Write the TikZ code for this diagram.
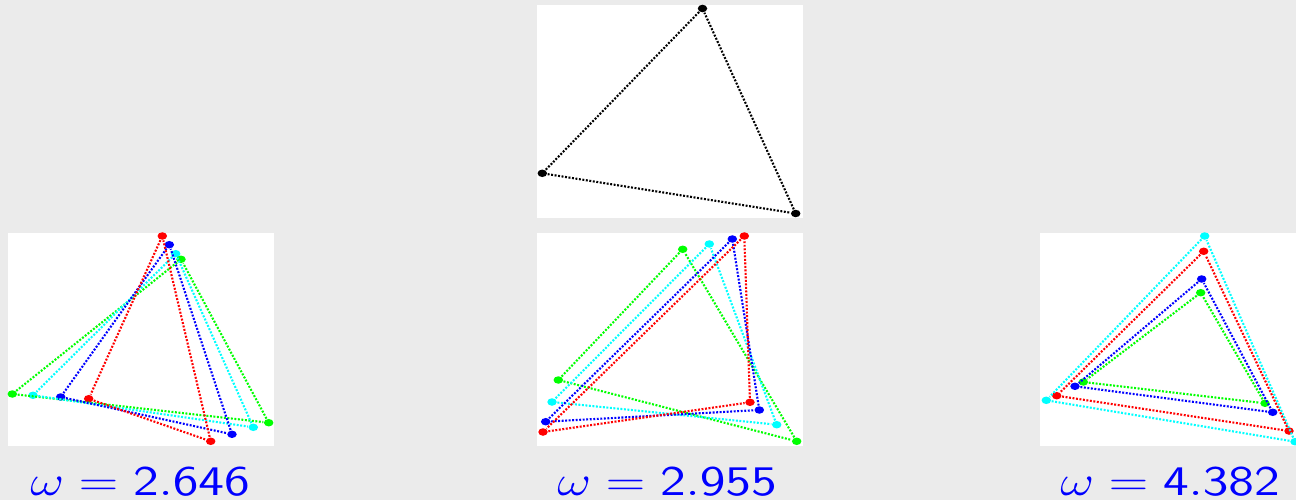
\documentclass[tikz,border=0pt]{standalone}
\usetikzlibrary{shapes.geometric}
\definecolor{bg}{RGB}{235,235,235}
\definecolor{pRed}{RGB}{255,0,0}
\definecolor{pBlue}{RGB}{0,0,255}
\definecolor{pCyan}{RGB}{0,255,255}
\definecolor{pGreen}{RGB}{0,255,0}
\tikzset{
  vtx/.style={ellipse, inner sep=0pt, minimum width=0.095cm, minimum height=0.075cm, fill=#1, draw=none},
  edge/.style={draw=#1, line width=0.6pt, dash pattern=on 0.55pt off 0.45pt},
  panel/.style={fill=white, draw=none},
  omegalabel/.style={text=pBlue, font=\fontsize{13}{15}\selectfont, inner sep=0pt, anchor=base}
}
\newcommand{\omlab}[1]{\scalebox{1.24}[1]{$\omega = \mathsf{#1}$}}
\begin{document}
\begin{tikzpicture}[x=0.01cm, y=-0.01cm]
\clip (0,0) rectangle (1296,500);
\useasboundingbox (0,0) rectangle (1296,500);
\fill[bg] (0,0) rectangle (1296,500);
% panels
\fill[panel] (537,5) rectangle (803,218);
\fill[panel] (8,233) rectangle (274,446);
\fill[panel] (537,233) rectangle (803,446);
\fill[panel] (1040,233) rectangle (1306,446);

% top panel (black)
\node[vtx=black] (k1) at (702.5,8.5) {};
\node[vtx=black] (k2) at (542.3,173.3) {};
\node[vtx=black] (k3) at (795.7,213.5) {};
\draw[edge=black] (k1) -- (k2);
\draw[edge=black] (k2) -- (k3);
\draw[edge=black] (k3) -- (k1);

% bottom-left panel
\node[vtx=pRed] (a1) at (162.3,236) {};
\node[vtx=pRed] (a2) at (88.7,398.7) {};
\node[vtx=pRed] (a3) at (210.7,441.3) {};
\node[vtx=pBlue] (b1) at (169.3,244.7) {};
\node[vtx=pBlue] (b2) at (60.7,397) {};
\node[vtx=pBlue] (b3) at (232,434.3) {};
\node[vtx=pCyan] (c1) at (175.7,253.7) {};
\node[vtx=pCyan] (c2) at (33,395.3) {};
\node[vtx=pCyan] (c3) at (253.3,427.3) {};
\node[vtx=pGreen] (g1) at (181,259.3) {};
\node[vtx=pGreen] (g2) at (12.3,394) {};
\node[vtx=pGreen] (g3) at (268.7,422.7) {};
\draw[edge=pGreen] (g1) -- (g2); \draw[edge=pGreen] (g2) -- (g3); \draw[edge=pGreen] (g3) -- (g1);
\draw[edge=pCyan] (c1) -- (c2); \draw[edge=pCyan] (c2) -- (c3); \draw[edge=pCyan] (c3) -- (c1);
\draw[edge=pBlue] (b1) -- (b2); \draw[edge=pBlue] (b2) -- (b3); \draw[edge=pBlue] (b3) -- (b1);
\draw[edge=pRed] (a1) -- (a2); \draw[edge=pRed] (a2) -- (a3); \draw[edge=pRed] (a3) -- (a1);

% bottom-centre panel
\node[vtx=pGreen] (m1) at (682.7,249.3) {};
\node[vtx=pGreen] (m2) at (558.3,380) {};
\node[vtx=pGreen] (m3) at (796.7,441.3) {};
\node[vtx=pCyan] (n1) at (709.3,244) {};
\node[vtx=pCyan] (n2) at (552,402) {};
\node[vtx=pCyan] (n3) at (776.7,424.7) {};
\node[vtx=pBlue] (o1) at (732.3,239) {};
\node[vtx=pBlue] (o2) at (545.7,421.7) {};
\node[vtx=pBlue] (o3) at (759.3,410) {};
\node[vtx=pRed] (p1) at (744.3,236) {};
\node[vtx=pRed] (p2) at (543,432) {};
\node[vtx=pRed] (p3) at (750,402.3) {};
\draw[edge=pGreen] (m1) -- (m2); \draw[edge=pGreen] (m2) -- (m3); \draw[edge=pGreen] (m3) -- (m1);
\draw[edge=pCyan] (n1) -- (n2); \draw[edge=pCyan] (n2) -- (n3); \draw[edge=pCyan] (n3) -- (n1);
\draw[edge=pBlue] (o1) -- (o2); \draw[edge=pBlue] (o2) -- (o3); \draw[edge=pBlue] (o3) -- (o1);
\draw[edge=pRed] (p1) -- (p2); \draw[edge=pRed] (p2) -- (p3); \draw[edge=pRed] (p3) -- (p1);

% bottom-right panel
\node[vtx=pCyan] (s1) at (1204.7,236) {};
\node[vtx=pCyan] (s2) at (1046.3,400.3) {};
\node[vtx=pCyan] (s3) at (1295,441.7) {};
\node[vtx=pRed] (t1) at (1203.7,251.3) {};
\node[vtx=pRed] (t2) at (1056.7,395.7) {};
\node[vtx=pRed] (t3) at (1289,431) {};
\node[vtx=pBlue] (u1) at (1201.7,279) {};
\node[vtx=pBlue] (u2) at (1075,386.3) {};
\node[vtx=pBlue] (u3) at (1272.7,412.3) {};
\node[vtx=pGreen] (v1) at (1200.7,292.7) {};
\node[vtx=pGreen] (v2) at (1083.3,382) {};
\node[vtx=pGreen] (v3) at (1265,403.3) {};
\draw[edge=pCyan] (s1) -- (s2); \draw[edge=pCyan] (s2) -- (s3); \draw[edge=pCyan] (s3) -- (s1);
\draw[edge=pRed] (t1) -- (t2); \draw[edge=pRed] (t2) -- (t3); \draw[edge=pRed] (t3) -- (t1);
\draw[edge=pBlue] (u1) -- (u2); \draw[edge=pBlue] (u2) -- (u3); \draw[edge=pBlue] (u3) -- (u1);
\draw[edge=pGreen] (v1) -- (v2); \draw[edge=pGreen] (v2) -- (v3); \draw[edge=pGreen] (v3) -- (v1);

% labels
\node[omegalabel] (l1) at (140,495) {\omlab{2.646}};
\node[omegalabel] (l2) at (667,495) {\omlab{2.955}};
\node[omegalabel] (l3) at (1170,495) {\omlab{4.382}};
\end{tikzpicture}
\end{document}
